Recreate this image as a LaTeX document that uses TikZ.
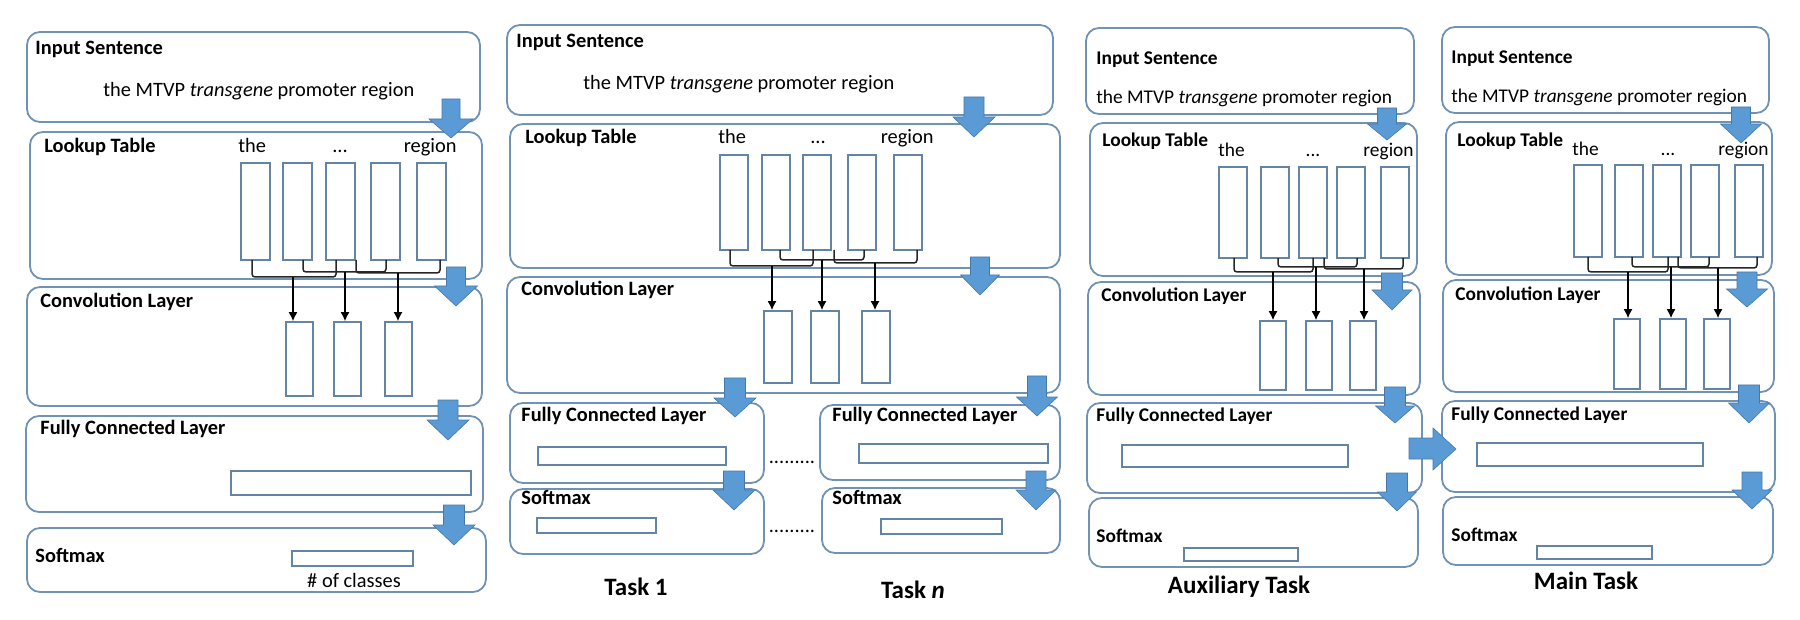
\documentclass[tikz,border=0pt]{standalone}
\usepackage{fontspec}
\setmainfont{Carlito}
\usetikzlibrary{arrows.meta,fit}
\definecolor{boxc}{RGB}{112,146,180}
\definecolor{rectc}{RGB}{100,132,165}
\definecolor{blu}{RGB}{91,155,213}
\definecolor{bluedge}{RGB}{70,120,170}
\newcommand\fA{\fontsize{10.2}{12}\selectfont}
\newcommand\fB{\fontsize{9.7}{11.5}\selectfont}
\newcommand\fT{\fontsize{12.5}{15}\selectfont}
\newcommand\blockdn[6]{\filldraw[blk] (#1-#3,#2) -- (#1+#3,#2) -- (#1+#3,#5) -- (#1+#4,#5) -- (#1,#6) -- (#1-#4,#5) -- (#1-#3,#5) -- cycle;}
\newcommand\cellnode[5]{\node[cell, fit={(#2,#3) (#4,#5)}] (#1) {};}
\newcommand\boxnode[5]{\node[box, fit={(#2,#3) (#4,#5)}] (#1) {};}
\tikzset{
 box/.style={draw=boxc, line width=0.9pt, rounded corners=6.5pt, inner sep=0pt},
 cell/.style={draw=rectc, line width=0.8pt, inner sep=0pt},
 lab/.style={anchor=base west, inner sep=0pt},
 labc/.style={anchor=base, inner sep=0pt},
 labe/.style={anchor=base east, inner sep=0pt},
 brk/.style={draw=black!85, line width=0.75pt, rounded corners=1.5pt},
 arr/.style={draw=black, line width=0.75pt, -{Latex[length=4.5pt,width=4.5pt]}},
 blk/.style={fill=blu, draw=bluedge, line width=0.3pt},
}
\begin{document}
\begin{tikzpicture}[x=0.5pt,y=-0.5pt]
\useasboundingbox (0,0) rectangle (1800,620);
%================ Panel 1 ================
\boxnode{p1in}{27}{32}{480}{122}
\boxnode{p1lt}{30}{132}{482}{279}
\boxnode{p1cv}{27}{287}{482}{406}
\boxnode{p1fc}{26}{416}{483}{512}
\boxnode{p1sm}{27}{528}{486}{592}
\node[lab, font=\fA\bfseries] (p1inL) at (35,55) {Input Sentence};
\node[lab, font=\fA] (p1sen) at (103,97) {the MTVP \textit{transgene} promoter region};
\node[lab, font=\fA\bfseries] (p1ltL) at (44,153) {Lookup Table};
\node[lab, font=\fA] (p1w1) at (238,153) {the};
\node[labc, font=\fA] (p1w2) at (340,153) {...};
\node[labe, font=\fA] (p1w3) at (457,153) {region};
\node[lab, font=\fA\bfseries] (p1cvL) at (40,307) {Convolution Layer};
\node[lab, font=\fA\bfseries] (p1fcL) at (40,434) {Fully Connected Layer};
\node[lab, font=\fA\bfseries] (p1smL) at (35,562) {Softmax};
\node[labc, font=\fA] (p1cls) at (354,587) {\# of classes};
\foreach \i/\x in {1/241,2/283,3/326,4/371,5/417} {\cellnode{p1r\i}{\x}{163}{\x+29}{260}}
\foreach \i/\x in {1/286,2/334,3/385} {\cellnode{p1c\i}{\x}{322}{\x+27}{396}}
\draw[brk] (252,260) |- (336,277) -- (336,260);
\draw[brk] (303,260) |- (386,272) -- (386,260);
\draw[brk] (356,260) |- (440,273) -- (440,260);
\coordinate (p1s1) at (293,277);
\coordinate (p1s2) at (345,272);
\coordinate (p1s3) at (398,273);
\foreach \i in {1,2,3} {\draw[arr] (p1s\i) -- (p1s\i |- p1c\i.north);}
\cellnode{p1f}{231}{471}{471}{495}
\cellnode{p1o}{292}{551}{413}{566}
\blockdn{451}{99}{9}{22}{119}{138}
\blockdn{456}{267}{9.5}{21.5}{286}{306}
\blockdn{448}{400}{10}{21}{420}{440}
\blockdn{454}{505}{10.5}{21}{525}{545}
%================ Panel 2 ================
\boxnode{p2in}{507}{25}{1053}{115}
\boxnode{p2lt}{510}{124}{1060}{268}
\boxnode{p2cv}{507}{277}{1060}{393}
\boxnode{p2fa}{510}{403}{764}{483}
\boxnode{p2sa}{510}{489}{764}{554}
\boxnode{p2fb}{820}{405}{1060}{480}
\boxnode{p2sb}{822}{488}{1060}{553}
\node[lab, font=\fA\bfseries] (p2inL) at (516,48) {Input Sentence};
\node[lab, font=\fA] (p2sen) at (583,90) {the MTVP \textit{transgene} promoter region};
\node[lab, font=\fA\bfseries] (p2ltL) at (525,144) {Lookup Table};
\node[lab, font=\fA] (p2w1) at (718,144) {the};
\node[labc, font=\fA] (p2w2) at (818,144) {...};
\node[labe, font=\fA] (p2w3) at (934,144) {region};
\node[lab, font=\fA\bfseries] (p2cvL) at (521,296) {Convolution Layer};
\node[lab, font=\fA\bfseries] (p2faL) at (521,422) {Fully Connected Layer};
\node[lab, font=\fA\bfseries] (p2saL) at (521,504) {Softmax};
\node[lab, font=\fA\bfseries] (p2fbL) at (832,422) {Fully Connected Layer};
\node[lab, font=\fA\bfseries] (p2sbL) at (832,504) {Softmax};
\node[labc, font=\fA] (p2d1) at (792,463) {.........};
\node[labc, font=\fA] (p2d2) at (792,532) {.........};
\node[labc, font=\fT\bfseries] (p2t1) at (636,595) {Task 1};
\node[labc, font=\fT\bfseries] (p2tn) at (913,598) {Task \textit{n}};
\foreach \i/\x in {1/720,2/762,3/803,4/848,5/894} {\cellnode{p2r\i}{\x}{155}{\x+28}{250}}
\foreach \i/\x in {1/764,2/811,3/862} {\cellnode{p2c\i}{\x}{311}{\x+28}{383}}
\draw[brk] (730,250) |- (813,266) -- (813,250);
\draw[brk] (780,250) |- (864,260) -- (864,250);
\draw[brk] (834,250) |- (917,263) -- (917,250);
\coordinate (p2s1) at (772,266);
\coordinate (p2s2) at (822,260);
\coordinate (p2s3) at (875,263);
\foreach \i in {1,2,3} {\draw[arr] (p2s\i) -- (p2s\i |- p2c\i.north);}
\cellnode{p2fra}{538}{447}{726}{465}
\cellnode{p2ora}{537}{518}{656}{533}
\cellnode{p2frb}{859}{444}{1048}{463}
\cellnode{p2orb}{881}{519}{1002}{534}
\blockdn{974}{97}{10}{21}{117}{137}
\blockdn{980}{257}{9.5}{19.5}{275}{295}
\blockdn{735}{378}{10.5}{21}{398}{417}
\blockdn{734}{471}{10.5}{21}{490}{510}
\blockdn{1037}{376}{9.5}{20.5}{397}{416}
\blockdn{1036}{471}{10}{20}{490}{510}
%================ Panel 3 ================
\boxnode{p3in}{1086}{28}{1414}{114}
\boxnode{p3lt}{1090}{123}{1417}{276}
\boxnode{p3cv}{1088}{282}{1420}{395}
\boxnode{p3fc}{1087}{403}{1422}{493}
\boxnode{p3sm}{1089}{498}{1418}{567}
\node[lab, font=\fB\bfseries] (p3inL) at (1096,65) {Input Sentence};
\node[lab, font=\fB] (p3sen) at (1096,104) {the MTVP \textit{transgene} promoter region};
\node[lab, font=\fB\bfseries] (p3ltL) at (1102,147) {Lookup Table};
\node[lab, font=\fB] (p3w1) at (1218,157) {the};
\node[labc, font=\fB] (p3w2) at (1313,157) {...};
\node[labe, font=\fB] (p3w3) at (1414,157) {region};
\node[lab, font=\fB\bfseries] (p3cvL) at (1101,302) {Convolution Layer};
\node[lab, font=\fB\bfseries] (p3fcL) at (1096,422) {Fully Connected Layer};
\node[lab, font=\fB\bfseries] (p3smL) at (1096,542) {Softmax};
\node[labc, font=\fT\bfseries] (p3t) at (1239,593) {Auxiliary Task};
\foreach \i/\x in {1/1219,2/1261,3/1299,4/1337,5/1381} {\cellnode{p3r\i}{\x}{167}{\x+28}{258}}
\foreach \i/\x in {1/1260,2/1306,3/1350} {\cellnode{p3c\i}{\x}{321}{\x+26}{390}}
\draw[brk] (1234,258) |- (1313,272) -- (1313,258);
\draw[brk] (1278,258) |- (1357,267) -- (1357,258);
\draw[brk] (1324,258) |- (1403,269) -- (1403,258);
\coordinate (p3s1) at (1273,272);
\coordinate (p3s2) at (1316,267);
\coordinate (p3s3) at (1364,269);
\foreach \i in {1,2,3} {\draw[arr] (p3s\i) -- (p3s\i |- p3c\i.north);}
\cellnode{p3f}{1122}{445}{1348}{467}
\cellnode{p3o}{1184}{548}{1298}{561}
\blockdn{1387}{108}{9.5}{19.5}{124}{140}
\blockdn{1392}{273}{10.5}{20}{290}{310}
\blockdn{1395}{387}{10.5}{19.5}{406}{423}
\blockdn{1397}{473}{10.5}{19.5}{492}{511}
%================ Panel 4 ================
\boxnode{p4in}{1442}{27}{1769}{113}
\boxnode{p4lt}{1446}{122}{1772}{275}
\boxnode{p4cv}{1443}{280}{1774}{392}
\boxnode{p4fc}{1442}{401}{1775}{492}
\boxnode{p4sm}{1443}{497}{1773}{565}
\node[lab, font=\fB\bfseries] (p4inL) at (1451,64) {Input Sentence};
\node[lab, font=\fB] (p4sen) at (1451,103) {the MTVP \textit{transgene} promoter region};
\node[lab, font=\fB\bfseries] (p4ltL) at (1457,147) {Lookup Table};
\node[lab, font=\fB] (p4w1) at (1572,156) {the};
\node[labc, font=\fB] (p4w2) at (1668,156) {...};
\node[labe, font=\fB] (p4w3) at (1769,156) {region};
\node[lab, font=\fB\bfseries] (p4cvL) at (1455,300) {Convolution Layer};
\node[lab, font=\fB\bfseries] (p4fcL) at (1451,421) {Fully Connected Layer};
\node[lab, font=\fB\bfseries] (p4smL) at (1451,541) {Softmax};
\node[labc, font=\fT\bfseries] (p4t) at (1586,589) {Main Task};
\foreach \i/\x in {1/1574,2/1615,3/1653,4/1691,5/1735} {\cellnode{p4r\i}{\x}{165}{\x+28}{257}}
\foreach \i/\x in {1/1614,2/1660,3/1704} {\cellnode{p4c\i}{\x}{319}{\x+26}{389}}
\draw[brk] (1588,257) |- (1668,272) -- (1668,257);
\draw[brk] (1632,257) |- (1709,267) -- (1709,257);
\draw[brk] (1678,257) |- (1757,268) -- (1757,257);
\coordinate (p4s1) at (1628,272);
\coordinate (p4s2) at (1671,267);
\coordinate (p4s3) at (1718,268);
\foreach \i in {1,2,3} {\draw[arr] (p4s\i) -- (p4s\i |- p4c\i.north);}
\cellnode{p4f}{1477}{443}{1703}{466}
\cellnode{p4o}{1537}{546}{1652}{559}
\blockdn{1741}{107}{9.5}{20.5}{124}{143}
\blockdn{1747}{272}{10}{20.5}{289}{307}
\blockdn{1749}{385}{10.5}{20.5}{403}{423}
\blockdn{1752}{472}{10}{20}{490}{509}
% horizontal arrow auxiliary -> main
\filldraw[blk] (1409,438) -- (1433,438) -- (1433,428) -- (1456,449) -- (1433,470) -- (1433,459) -- (1409,459) -- cycle;
\end{tikzpicture}
\end{document}
